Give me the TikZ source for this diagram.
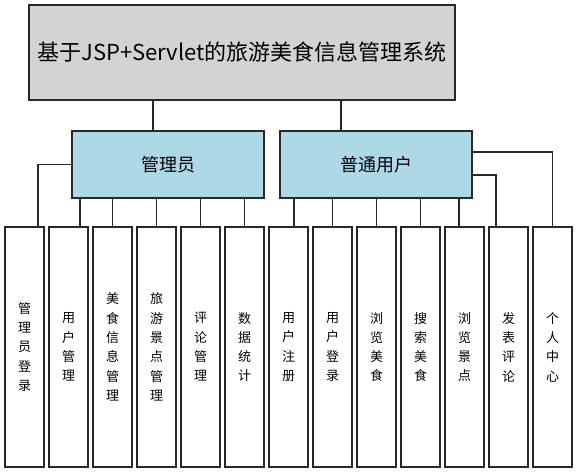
\documentclass[tikz,border=0pt]{standalone}
\usepackage{fontspec}
\setmainfont{Noto Sans CJK SC}
\usetikzlibrary{positioning}
\usetikzlibrary{calc}
\definecolor{titlegray}{RGB}{211,211,211}
\definecolor{rolecyan}{RGB}{173,216,230}
\definecolor{edgegray}{RGB}{40,40,40}

\tikzset{
    titlebox/.style={draw=edgegray, line width=1.1pt, fill=titlegray, minimum width=426pt, minimum height=95pt, inner sep=0pt, font=\fontsize{22}{26}\selectfont},
    rolebox/.style={draw=edgegray, line width=1.1pt, fill=rolecyan, minimum width=192pt, minimum height=67pt, inner sep=0pt, font=\fontsize{18}{21}\selectfont},
    funcbox/.style={draw=edgegray, line width=1.1pt, fill=white, minimum width=39pt, minimum height=240pt, inner sep=0pt, align=center, font=\fontsize{13}{19.3}\selectfont},
    link/.style={edgegray, line width=1.1pt}
}

\begin{document}
\begin{tikzpicture}[x=1pt, y=-1pt]
    \useasboundingbox (0, 0) rectangle (577, 473);

    \node[titlebox] (sys) at (242, 52.5) {基于JSP+Servlet的旅游美食信息管理系统};
    \node[rolebox] (admin) at (168, 164.5) {管理员};
    \node[rolebox] (user) at (376, 164.5) {普通用户};

    % function modules
    \foreach \i/\txt in {1/管\\理\\员\\登\\录, 2/用\\户\\管\\理, 3/美\\食\\信\\息\\管\\理,
                         4/旅\\游\\景\\点\\管\\理, 5/评\\论\\管\\理, 6/数\\据\\统\\计,
                         7/用\\户\\注\\册, 8/用\\户\\登\\录, 9/浏\\览\\美\\食,
                         10/搜\\索\\美\\食, 11/浏\\览\\景\\点, 12/发\\表\\评\\论,
                         13/个\\人\\中\\心}
        \node[funcbox] (b\i) at ({24.5 + 44*(\i-1)}, 347) {\txt};

    % system to roles
    \draw[link] ([xshift=-15pt]admin.north) -- ([xshift=-15pt]admin.north |- sys.south);
    \draw[link] ([xshift=-35pt]user.north) -- ([xshift=-35pt]user.north |- sys.south);

    % admin branches
    \draw[link] (admin.west) -| ([xshift=13.5pt]b1.north);
    \draw[link] ([xshift=11.5pt]b2.north) -- ([xshift=11.5pt]b2.north |- admin.south);
    \foreach \i in {3,4,5,6}
        \draw[link] (b\i.north) -- (b\i.north |- admin.south);

    % user branches
    \draw[link] ([xshift=5.5pt]b7.north) -- ([xshift=5.5pt]b7.north |- user.south);
    \foreach \i in {8,9,10}
        \draw[link] (b\i.north) -- (b\i.north |- user.south);
    \draw[link] ([xshift=-5.5pt]b11.north) -- ([xshift=-5.5pt]b11.north |- user.south);
    \draw[link] ([yshift=-10.5pt]user.east) -| ([xshift=-12.5pt]b12.north);
    \draw[link] ([yshift=12.5pt]user.east) -| (b13.north);
\end{tikzpicture}
\end{document}
